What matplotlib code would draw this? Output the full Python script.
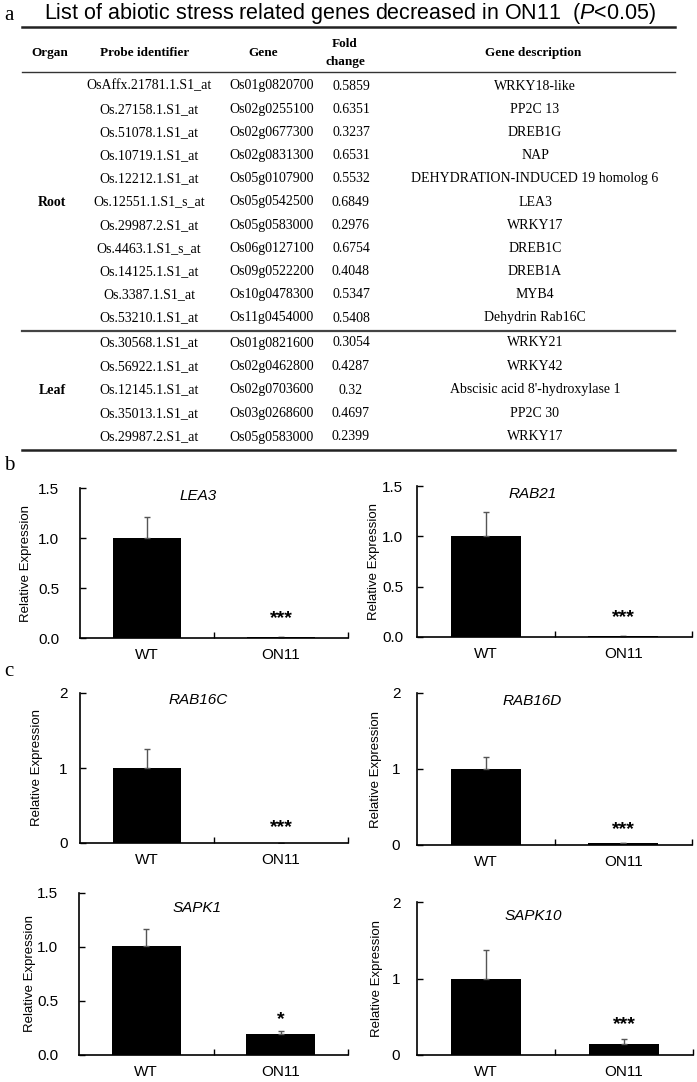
import numpy as np
import matplotlib
matplotlib.use("Agg")
import matplotlib.pyplot as plt

plt.rcParams["mathtext.fontset"] = "custom"
plt.rcParams["mathtext.rm"] = "Liberation Sans"
plt.rcParams["mathtext.it"] = "Liberation Sans:italic"

# ---- table data (panel a) ----
header = ["Organ", "Probe identifier", "Gene", "Fold\nchange", "Gene description"]
organs = ["Root", "Leaf"]
root_probes = ["OsAffx.21781.1.S1_at", "Os.27158.1.S1_at", "Os.51078.1.S1_at", "Os.10719.1.S1_at",
               "Os.12212.1.S1_at", "Os.12551.1.S1_s_at", "Os.29987.2.S1_at", "Os.4463.1.S1_s_at",
               "Os.14125.1.S1_at", "Os.3387.1.S1_at", "Os.53210.1.S1_at"]
root_genes = ["Os01g0820700", "Os02g0255100", "Os02g0677300", "Os02g0831300", "Os05g0107900",
              "Os05g0542500", "Os05g0583000", "Os06g0127100", "Os09g0522200", "Os10g0478300",
              "Os11g0454000"]
root_fold = ["0.5859", "0.6351", "0.3237", "0.6531", "0.5532", "0.6849", "0.2976", "0.6754",
             "0.4048", "0.5347", "0.5408"]
root_desc = ["WRKY18-like", "PP2C 13", "DREB1G", "NAP", "DEHYDRATION-INDUCED 19 homolog 6",
             "LEA3", "WRKY17", "DREB1C", "DREB1A", "MYB4", "Dehydrin Rab16C"]
leaf_probes = ["Os.30568.1.S1_at", "Os.56922.1.S1_at", "Os.12145.1.S1_at", "Os.35013.1.S1_at",
               "Os.29987.2.S1_at"]
leaf_genes = ["Os01g0821600", "Os02g0462800", "Os02g0703600", "Os03g0268600", "Os05g0583000"]
leaf_fold = ["0.3054", "0.4287", "0.32", "0.4697", "0.2399"]
leaf_desc = ["WRKY21", "WRKY42", "Abscisic acid 8'-hydroxylase 1", "PP2C 30", "WRKY17"]

# ---- bar chart data (panels b, c) ----
groups = ["WT", "ON11"]
gene_names = ["LEA3", "RAB21", "RAB16C", "RAB16D", "SAPK1", "SAPK10"]
means = [[1.0, 0.01], [1.0, 0.005], [1.0, 0.0], [1.0, 0.02], [1.01, 0.195], [1.0, 0.15]]
errs = [[0.21, 0.004], [0.24, 0.003], [0.25, 0.0], [0.16, 0.005], [0.16, 0.03], [0.37, 0.06]]
stars = ["***", "***", "***", "***", "*", "***"]
star_y = [0.19, 0.19, 0.2, 0.2, 0.33, 0.4]
ymax = [1.5, 1.5, 2, 2, 1.5, 2]

W, H = 697, 1082
fig = plt.figure(figsize=(W / 100, H / 100), dpi=100)

serif = "Liberation Serif"
sans = "Liberation Sans"

# full-figure overlay in pixel units for the table
tab = fig.add_axes([0, 0, 1, 1])
tab.set_xlim(0, W)
tab.set_ylim(H, 0)
tab.axis("off")

tab.text(4, 16, "a", family=serif, fontsize=15, va="center", ha="left")
tab.text(44, 13, "List of abiotic stress related genes decreased in ON11  ($\\mathit{P}$<0.05)",
         family=sans, fontsize=15.5, va="center", ha="left")

line_x = [22, 675]
tab.plot(line_x, [27, 27], color="#222222", lw=1.8)
tab.plot(line_x, [72, 72], color="#333333", lw=1.0)
tab.plot(line_x, [331, 331], color="#444444", lw=1.6)
tab.plot(line_x, [450, 450], color="#222222", lw=1.8)

head_x = [50, 145, 263, 345, 533]
col_x = [52, 149, 272, 351, 535]
for hx, h in zip(head_x, header):
    tab.text(hx, 53, h, family=serif, fontsize=9.5, fontweight="bold",
             ha="center", va="center", linespacing=1.6)

root_y = [86 + 23.2 * i for i in range(len(root_probes))]
leaf_y = [343 + 23.5 * i for i in range(len(leaf_probes))]
for rows_y, probes, genes, fold, desc in [(root_y, root_probes, root_genes, root_fold, root_desc),
                                         (leaf_y, leaf_probes, leaf_genes, leaf_fold, leaf_desc)]:
    for y, p, g, f, d in zip(rows_y, probes, genes, fold, desc):
        for cx, s in zip(col_x[1:], [p, g, f, d]):
            tab.text(cx, y, s, family=serif, fontsize=10, ha="center", va="center")
tab.text(col_x[0], np.mean(root_y), organs[0], family=serif, fontsize=10,
         fontweight="bold", ha="center", va="center")
tab.text(col_x[0], np.mean(leaf_y), organs[1], family=serif, fontsize=10,
         fontweight="bold", ha="center", va="center")

tab.text(4, 465, "b", family=serif, fontsize=15, va="center", ha="left")
tab.text(4, 672, "c", family=serif, fontsize=15, va="center", ha="left")

# chart boxes in pixels: left, top, right, bottom
boxes = [(80, 488, 348, 638), (417, 486, 692, 637),
         (80, 693, 348, 843), (417, 693, 692, 845),
         (79, 893, 348, 1055), (417, 902, 693, 1055)]
ylabel_x = [32, 380, 43, 382, 36, 383]
tick_pad = [15, 10, 9, 12, 15, 12]

x = np.arange(len(groups))
for i, (l, t, r, b) in enumerate(boxes):
    ax = fig.add_axes([l / W, (H - b) / H, (r - l) / W, (b - t) / H])
    ax.bar(x, means[i], width=0.51, color="black")
    ax.errorbar(x, means[i], yerr=[np.zeros(2), errs[i]], fmt="none",
                ecolor="#555555", elinewidth=1, capsize=2.5, capthick=1)
    ax.text(1, star_y[i], stars[i], family=sans, fontsize=14, fontweight="bold",
            ha="center", va="center")
    ax.text(0.44 if i % 2 == 0 else 0.42, 0.95 if i < 4 else 0.91, gene_names[i],
            family=sans, fontsize=11, style="italic", ha="center", va="center",
            transform=ax.transAxes)
    ax.set_xlim(-0.5, 1.5)
    ax.set_ylim(0, ymax[i])
    if ymax[i] == 1.5:
        ax.set_yticks([0, 0.5, 1.0, 1.5])
        ax.set_yticklabels(["0.0", "0.5", "1.0", "1.5"])
    else:
        ax.set_yticks([0, 1, 2])
        ax.set_yticklabels(["0", "1", "2"])
    ax.set_xticks(x)
    ax.set_xticklabels(groups)
    ax.set_xticks([0.5, 1.5], minor=True)
    ax.tick_params(axis="x", which="major", length=0, pad=7, labelsize=11)
    ax.tick_params(axis="x", which="minor", direction="in", length=4, width=1)
    ax.tick_params(axis="y", direction="in", length=4, width=1, pad=tick_pad[i], labelsize=11)
    for lab in ax.get_xticklabels() + ax.get_yticklabels():
        lab.set_family(sans)
    for s in ["top", "right"]:
        ax.spines[s].set_visible(False)
    for s in ["left", "bottom"]:
        ax.spines[s].set_linewidth(1.2)
    ax.set_ylabel("Relative Expression", family=sans, fontsize=9.5)
    ax.yaxis.set_label_coords((ylabel_x[i] - l) / (r - l), 0.5)
    ax.patch.set_alpha(0)

fig.savefig("out.png", dpi=100)
